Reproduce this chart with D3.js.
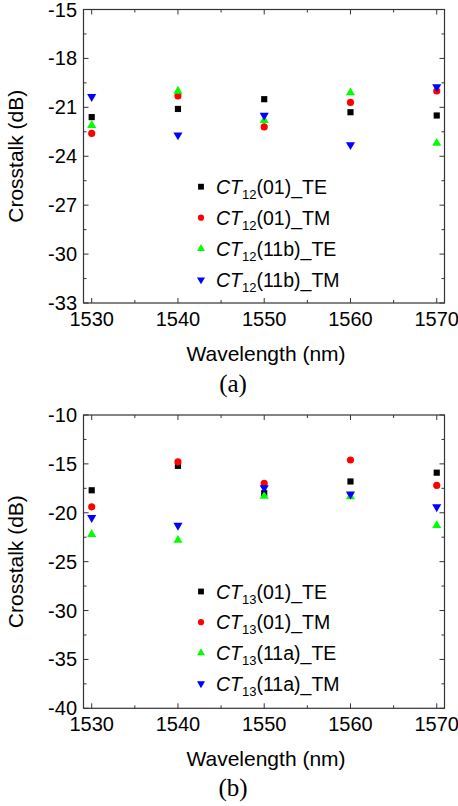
<!DOCTYPE html>
<html>
<head>
<meta charset="utf-8">
<script src="https://cdn.jsdelivr.net/npm/d3@7"></script>
<style>
  body { margin: 0; background: #fff; }
  svg { display: block; }
  text { font-family: Arial, "Liberation Sans", sans-serif; fill: #000; }
</style>
</head>
<body>
<div id="chart"></div>
<script>
// wavelengths shared by both panels
let wavelengths = [1530, 1540, 1550, 1560, 1570];

// panel (a)
let ct12_01_TE = [-21.6, -21.1, -20.5, -21.3, -21.5];
let ct12_01_TM = [-22.6, -20.3, -22.2, -20.7, -20.0];
let ct12_11b_TE = [-22.1, -20.0, -21.8, -20.1, -23.2];
let ct12_11b_TM = [-20.35, -22.7, -21.5, -23.3, -19.75];
let yTicksA = [-15, -18, -21, -24, -27, -30, -33];

// panel (b)
let ct13_01_TE = [-17.7, -15.2, -18.0, -16.8, -15.9];
let ct13_01_TM = [-19.4, -14.8, -17.0, -14.6, -17.2];
let ct13_11a_TE = [-22.2, -22.8, -18.3, -18.35, -21.3];
let ct13_11a_TM = [-20.5, -21.3, -17.45, -18.1, -19.4];
let yTicksB = [-10, -15, -20, -25, -30, -35, -40];

let xTicks = [1530, 1540, 1550, 1560, 1570];

let width = 458;
let height = 806;

let svg = d3.select("#chart")
  .append("svg")
  .attr("width", width)
  .attr("height", height);

// marker styles: square, circle, up triangle, down triangle
let markers = [
  { type: d3.symbolSquare, color: "#000000", size: 38, legSize: 34, rot: 0 },
  { type: d3.symbolCircle, color: "#ff0000", size: 40, legSize: 30, rot: 0 },
  { type: d3.symbolTriangle, color: "#00ff00", size: 36, legSize: 28, rot: 0 },
  { type: d3.symbolTriangle, color: "#0000ff", size: 36, legSize: 28, rot: 180 }
];

function drawPanel(cfg) {
  let left = 83.5, right = 444.5;
  let top = cfg.top, bottom = cfg.bottom;

  let x = d3.scaleLinear().domain([1529.05, 1570.9]).range([left, right]);
  let y = d3.scaleLinear().domain([cfg.yMax, cfg.yMin]).range([top, bottom]);

  let g = svg.append("g");

  // frame
  g.append("rect")
    .attr("x", left).attr("y", top)
    .attr("width", right - left).attr("height", bottom - top)
    .attr("fill", "none").attr("stroke", "#333").attr("stroke-width", 1.2);

  // ticks (inward) on all four sides
  let xMinor = d3.range(1530, 1571, 5);
  let yMinor = d3.range(cfg.yMin, cfg.yMax + 0.01, cfg.yStep / 2);

  xMinor.forEach(function(v) {
    let major = v % 10 === 0;
    let len = major ? 5 : 3;
    g.append("line").attr("x1", x(v)).attr("x2", x(v))
      .attr("y1", bottom).attr("y2", bottom - len)
      .attr("stroke", "#333").attr("stroke-width", 1);
    g.append("line").attr("x1", x(v)).attr("x2", x(v))
      .attr("y1", top).attr("y2", top + len)
      .attr("stroke", "#333").attr("stroke-width", 1);
  });

  yMinor.forEach(function(v, i) {
    let major = i % 2 === 0;
    let len = major ? 5 : 3;
    g.append("line").attr("x1", left).attr("x2", left + len)
      .attr("y1", y(v)).attr("y2", y(v))
      .attr("stroke", "#333").attr("stroke-width", 1);
    g.append("line").attr("x1", right).attr("x2", right - len)
      .attr("y1", y(v)).attr("y2", y(v))
      .attr("stroke", "#333").attr("stroke-width", 1);
  });

  // tick labels
  g.selectAll(".xLab")
    .data(xTicks)
    .enter()
    .append("text")
    .attr("x", function(d) { return x(d); })
    .attr("y", bottom + 23)
    .attr("text-anchor", "middle")
    .attr("font-size", 20)
    .text(function(d) { return d; });

  g.selectAll(".yLab")
    .data(cfg.yTicks)
    .enter()
    .append("text")
    .attr("x", 77)
    .attr("y", function(d) { return y(d) + 7; })
    .attr("text-anchor", "end")
    .attr("font-size", 20)
    .text(function(d) { return d; });

  // axis titles
  g.append("text")
    .attr("x", (left + right) / 2 + 2)
    .attr("y", bottom + 58)
    .attr("text-anchor", "middle")
    .attr("font-size", 21)
    .text("Wavelength (nm)");

  g.append("text")
    .attr("transform", "translate(23," + ((top + bottom) / 2) + ") rotate(-90)")
    .attr("text-anchor", "middle")
    .attr("font-size", 21)
    .text("Crosstalk (dB)");

  // panel caption
  g.append("text")
    .attr("x", 233)
    .attr("y", cfg.captionY)
    .attr("text-anchor", "middle")
    .attr("font-size", 25)
    .style("font-family", "'Liberation Serif', 'Times New Roman', serif")
    .text(cfg.caption);

  // data points
  cfg.series.forEach(function(vals, si) {
    let m = markers[si];
    g.selectAll(".pt" + si)
      .data(vals)
      .enter()
      .append("path")
      .attr("d", d3.symbol().type(m.type).size(m.size))
      .attr("transform", function(d, i) {
        return "translate(" + x(wavelengths[i]) + "," + y(d) + ") rotate(" + m.rot + ")";
      })
      .attr("fill", m.color);
  });

  // legend
  cfg.labels.forEach(function(lab, si) {
    let m = markers[si];
    let ly = cfg.legendY + si * cfg.legendStep;
    g.append("path")
      .attr("d", d3.symbol().type(m.type).size(m.legSize))
      .attr("transform", "translate(201," + ly + ") rotate(" + m.rot + ")")
      .attr("fill", m.color);

    let t = g.append("text")
      .attr("x", 216)
      .attr("y", ly + 7)
      .attr("font-size", 19.5);
    t.append("tspan").attr("font-style", "italic").text("CT");
    t.append("tspan").attr("font-size", 13).attr("dy", 5).text(cfg.sub);
    t.append("tspan").attr("dy", -5).text(lab);
  });
}

drawPanel({
  top: 9.5, bottom: 303,
  yMin: -33, yMax: -15, yStep: 3, yTicks: yTicksA,
  series: [ct12_01_TE, ct12_01_TM, ct12_11b_TE, ct12_11b_TM],
  sub: "12",
  labels: ["(01)_TE", "(01)_TM", "(11b)_TE", "(11b)_TM"],
  legendY: 186.7, legendStep: 31,
  caption: "(a)", captionY: 392
});

drawPanel({
  top: 415, bottom: 708.3,
  yMin: -40, yMax: -10, yStep: 5, yTicks: yTicksB,
  series: [ct13_01_TE, ct13_01_TM, ct13_11a_TE, ct13_11a_TM],
  sub: "13",
  labels: ["(01)_TE", "(01)_TM", "(11a)_TE", "(11a)_TM"],
  legendY: 591.5, legendStep: 30.7,
  caption: "(b)", captionY: 796
});
</script>
</body>
</html>
